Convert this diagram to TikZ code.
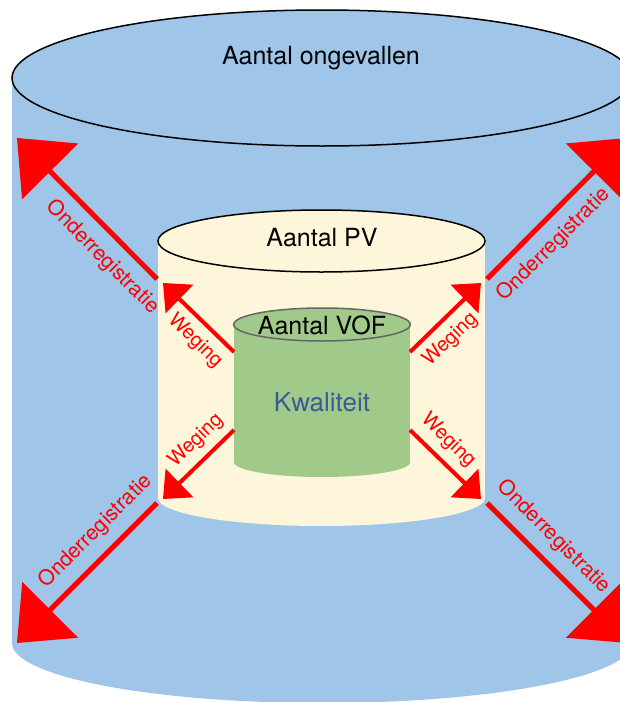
\documentclass[tikz,border=0pt]{standalone}
\usepackage{fontspec}
\setmainfont{TeX Gyre Heros}
\usetikzlibrary{arrows.meta, positioning}
\definecolor{skyblue}{HTML}{9FC5E8}
\definecolor{pvcream}{HTML}{FDF6DA}
\definecolor{vofgreen}{HTML}{A0C98A}
\definecolor{vofgray}{HTML}{666666}
\definecolor{kwalblue}{HTML}{3A5A99}
\definecolor{arrowred}{HTML}{FF0000}

\begin{document}
\begin{tikzpicture}[x=0.5pt, y=-0.5pt,
    outerarrow/.style={draw=arrowred, line width=2.5pt, -{Triangle[length=23.5pt, width=39pt]}},
    innerarrow/.style={draw=arrowred, line width=2pt, -{Triangle[length=11.5pt, width=19.5pt]}},
    onderlabel/.style={text=arrowred, sloped, font=\fontsize{10.5}{12}\selectfont},
    weginglabel/.style={text=arrowred, sloped, font=\fontsize{10}{12}\selectfont},
    cyltext/.style={font=\fontsize{12.5}{15}\selectfont}]
  \useasboundingbox (0,0) rectangle (620,702);
  \clip (0,0) rectangle (620,702);

  % outer cylinder
  \fill[skyblue] (322,643) ellipse [x radius=310, y radius=60];
  \fill[skyblue] (12,78) rectangle (632,643);
  \filldraw[fill=skyblue, draw=black, line width=0.75pt] (322,78) ellipse [x radius=310, y radius=68];
  \node[cyltext] (ongevallen) at (321,58) {Aantal ongevallen};

  % PV cylinder
  \fill[pvcream] (321.5,498) ellipse [x radius=163.5, y radius=28];
  \fill[pvcream] (158,241) rectangle (485,498);
  \filldraw[fill=pvcream, draw=black, line width=0.75pt] (321.5,241) ellipse [x radius=163.5, y radius=31];
  \node[cyltext] (pv) at (322,238) {Aantal PV};

  % VOF cylinder
  \fill[vofgreen] (322,462) ellipse [x radius=88.3, y radius=15];
  \fill[vofgreen] (233.7,324.5) rectangle (410.3,462);
  \filldraw[fill=vofgreen, draw=vofgray, line width=0.75pt] (322,324.5) ellipse [x radius=88.3, y radius=16.5];
  \node[cyltext] (vof) at (322,325) {Aantal VOF};
  \node[cyltext, font=\fontsize{13}{15}\selectfont, text=kwalblue] (kwaliteit) at (322,402) {Kwaliteit};

  \coordinate (pvTL) at (157,279);  \coordinate (tipTL) at (17,138);
  \coordinate (pvTR) at (487,279);  \coordinate (tipTR) at (627,138);
  \coordinate (pvBL) at (157,503);  \coordinate (tipBL) at (17,643);
  \coordinate (pvBR) at (487,503);  \coordinate (tipBR) at (627,643);

  \coordinate (vofTL) at (234,352); \coordinate (wtipTL) at (163,283);
  \coordinate (vofTR) at (410,352); \coordinate (wtipTR) at (481,283);
  \coordinate (vofBL) at (234,430); \coordinate (wtipBL) at (163,499);
  \coordinate (vofBR) at (410,430); \coordinate (wtipBR) at (481,499);

  % Onderregistratie
  \draw[outerarrow] (pvTL) -- node[onderlabel, below=2pt, pos=0.27] (onderTL) {Onderregistratie} (tipTL);
  \draw[outerarrow] (pvTR) -- node[onderlabel, below=2pt, pos=0.36] (onderTR) {Onderregistratie} (tipTR);
  \draw[outerarrow] (pvBL) -- node[onderlabel, above=2pt, pos=0.32] (onderBL) {Onderregistratie} (tipBL);
  \draw[outerarrow] (pvBR) -- node[onderlabel, above=2pt, pos=0.36] (onderBR) {Onderregistratie} (tipBR);

  % Weging
  \draw[innerarrow] (vofTL) -- node[weginglabel, below=0.5pt, pos=0.36] (wegTL) {Weging} (wtipTL);
  \draw[innerarrow] (vofTR) -- node[weginglabel, below=0.5pt, pos=0.38] (wegTR) {Weging} (wtipTR);
  \draw[innerarrow] (vofBL) -- node[weginglabel, above=0.5pt, pos=0.35] (wegBL) {Weging} (wtipBL);
  \draw[innerarrow] (vofBR) -- node[weginglabel, above=0.5pt, pos=0.35] (wegBR) {Weging} (wtipBR);
\end{tikzpicture}
\end{document}
